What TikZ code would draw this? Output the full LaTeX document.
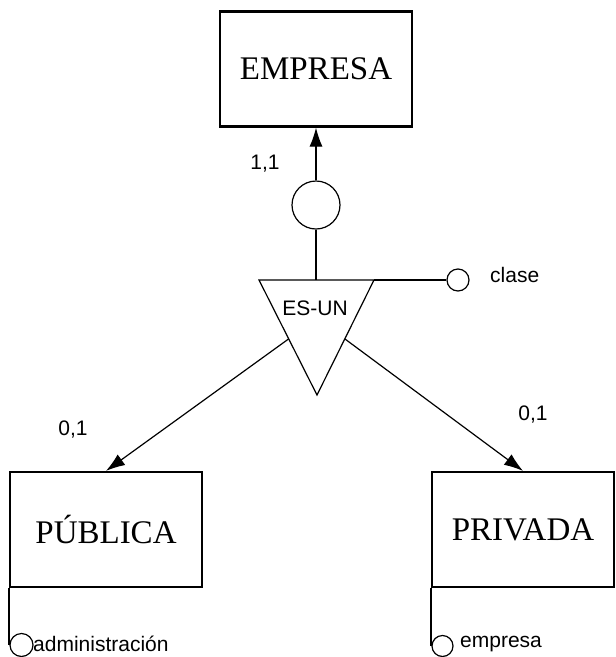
\documentclass[tikz,border=0pt]{standalone}
\usepackage{fontspec}
\setmainfont{Liberation Serif}
\setsansfont{Liberation Sans}
\usetikzlibrary{arrows.meta}
\begin{document}
\begin{tikzpicture}[x=1pt,y=-1pt,
  entity/.style={draw,line width=2.2pt,minimum height=115pt,inner sep=0pt,font=\fontsize{33}{33}\selectfont},
  link/.style={line width=1.2pt},
  tolink/.style={link,-{Latex[length=19pt,width=13pt]}},
  ring/.style={draw,circle,line width=1.2pt,inner sep=0pt},
  lbl/.style={font=\sffamily\fontsize{21}{21}\selectfont,inner sep=0pt}]
\useasboundingbox (0,0) rectangle (616,657);

% entities
\node[entity,minimum width=192pt] (empresa) at (316,69) {EMPRESA};
\node[entity,minimum width=192pt] (publica) at (106,529.5) {PÚBLICA};
\node[entity,minimum width=182pt] (privada) at (523,529.5) {PRIVADA};

% participation circle above the specialization
\node[ring,minimum size=48pt] (part) at (316,205) {};

% ES-UN triangle
\coordinate (tl) at (259,280);
\coordinate (tr) at (374,280);
\coordinate (tb) at (317,395);
\coordinate (ttop) at (316,280);
\coordinate (tleft) at (288.5,339);
\coordinate (tright) at (345,339);
\draw[link] (tl) -- (tr) -- (tb) -- cycle;
\node[lbl] (esun) at (315,308) {ES-UN};

\draw[tolink] (part) -- (empresa);
\draw[link] (part) -- (ttop);
\draw[tolink] (tleft) -- (publica.north);
\draw[tolink] (tright) -- (privada.north);

% discriminant attribute
\node[ring,minimum size=22pt] (claseo) at (458,280) {};
\draw[link] (tr) -- (claseo);
\node[lbl,anchor=west] (clase) at (490,275) {clase};

% cardinalities
\node[lbl] (c11) at (265,164) {1,1};
\node[lbl] (c01a) at (73,430) {0,1};
\node[lbl] (c01b) at (533,415) {0,1};

% identifier attributes
\node[ring,minimum size=23pt] (adm) at (21.5,645) {};
\draw[link] (publica.south west) -- (publica.south west |- adm.west);
\node[lbl,anchor=west] (admt) at (33,644) {administración};
\node[ring,minimum size=21pt] (emp) at (442.5,646) {};
\draw[link] (privada.south west) -- (privada.south west |- emp.west);
\node[lbl,anchor=west] (empt) at (460,644) {empresa};
\end{tikzpicture}
\end{document}
